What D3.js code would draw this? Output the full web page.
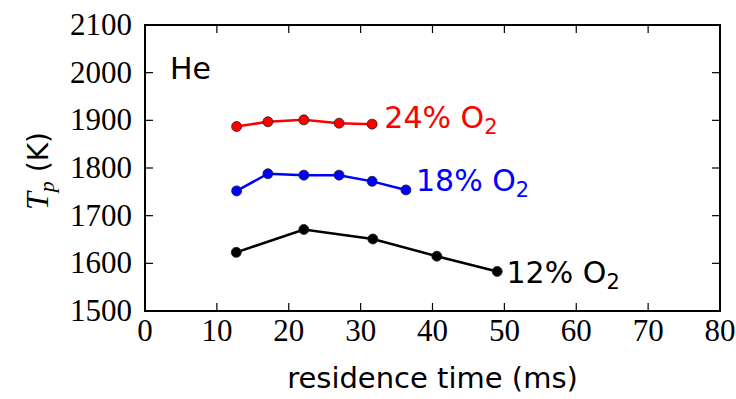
<!DOCTYPE html>
<html>
<head>
<meta charset="utf-8">
<script src="https://cdn.jsdelivr.net/npm/d3@7"></script>
<style>
  body { margin: 0; background: #fff; }
  svg { display: block; }
  .tick { font-family: "Liberation Serif", serif; font-size: 31px; }
</style>
</head>
<body>
<div id="chart"></div>
<script>
// residence time (ms) and particle temperature (K)
var time12 = [12.7, 22.1, 31.7, 40.6, 49.0];
var temp12 = [1623, 1671, 1651, 1615, 1583];
var time18 = [12.75, 17.1, 22.1, 27.0, 31.6, 36.3];
var temp18 = [1752, 1788, 1785, 1785, 1772, 1754];
var time24 = [12.75, 17.1, 22.1, 27.0, 31.6];
var temp24 = [1887, 1897, 1901, 1894, 1892];
var xTicks = [0, 10, 20, 30, 40, 50, 60, 70, 80];
var yTicks = [1500, 1600, 1700, 1800, 1900, 2000, 2100];
var seriesNames = ["12% O", "18% O", "24% O"];

var width = 736, height = 399;
var margin = {left: 145, right: 16, top: 25, bottom: 88};

var svg = d3.select("#chart").append("svg")
  .attr("width", width)
  .attr("height", height);

var x = d3.scaleLinear().domain([0, 80]).range([margin.left, width - margin.right]);
var y = d3.scaleLinear().domain([1500, 2100]).range([height - margin.bottom, margin.top]);

var sans = "DejaVu Sans, sans-serif";

// ticks (inward, all four sides)
var tl = 8;
var g = svg.append("g");
xTicks.forEach(function(t) {
  g.append("line").attr("x1", x(t)).attr("x2", x(t))
    .attr("y1", y(1500)).attr("y2", y(1500) - tl).attr("stroke", "#000").attr("stroke-width", 1.2);
  g.append("line").attr("x1", x(t)).attr("x2", x(t))
    .attr("y1", y(2100)).attr("y2", y(2100) + tl).attr("stroke", "#000").attr("stroke-width", 1.2);
  g.append("text").attr("class", "tick").attr("x", x(t)).attr("y", y(1500) + 30)
    .attr("text-anchor", "middle").text(t);
});
yTicks.forEach(function(t) {
  g.append("line").attr("x1", x(0)).attr("x2", x(0) + tl)
    .attr("y1", y(t)).attr("y2", y(t)).attr("stroke", "#000").attr("stroke-width", 1.2);
  g.append("line").attr("x1", x(80)).attr("x2", x(80) - tl)
    .attr("y1", y(t)).attr("y2", y(t)).attr("stroke", "#000").attr("stroke-width", 1.2);
  g.append("text").attr("class", "tick").attr("x", x(0) - 13).attr("y", y(t) + 10)
    .attr("text-anchor", "end").text(t);
});

// frame
svg.append("rect")
  .attr("x", x(0)).attr("y", y(2100))
  .attr("width", x(80) - x(0)).attr("height", y(1500) - y(2100))
  .attr("fill", "none").attr("stroke", "#000").attr("stroke-width", 2);

// series
var line = d3.line().x(function(d) { return x(d[0]); }).y(function(d) { return y(d[1]); });
function drawSeries(ts, vs, color) {
  var pts = d3.zip(ts, vs);
  svg.append("path").datum(pts).attr("d", line)
    .attr("fill", "none").attr("stroke", color).attr("stroke-width", 2.5);
  svg.append("g").selectAll("circle").data(pts).enter().append("circle")
    .attr("cx", function(d) { return x(d[0]); })
    .attr("cy", function(d) { return y(d[1]); })
    .attr("r", 5)
    .attr("fill", color)
    .attr("stroke", "#222").attr("stroke-width", 0.8);
}
drawSeries(time12, temp12, "#000");
drawSeries(time18, temp18, "#0000ff");
drawSeries(time24, temp24, "#ff0000");

// series labels
function label(px, py, name, color) {
  var t = svg.append("text").attr("x", px).attr("y", py)
    .attr("font-family", sans).attr("font-size", 30).attr("fill", color);
  t.append("tspan").text(name);
  t.append("tspan").attr("dy", 6).attr("font-size", 21).text("2");
}
label(x(50.3), y(1582) + 11, seriesNames[0], "#000");
label(x(37.7), y(1754) + 1, seriesNames[1], "#0000ff");
label(x(33.3), y(1891) + 3, seriesNames[2], "#ff0000");

svg.append("text").attr("x", 170).attr("y", 79)
  .attr("font-family", sans).attr("font-size", 30).text("He");

// axis labels
svg.append("text").attr("x", (x(0) + x(80)) / 2).attr("y", 388)
  .attr("text-anchor", "middle").attr("font-family", sans).attr("font-size", 29)
  .text("residence time (ms)");

var yl = svg.append("text")
  .attr("transform", "translate(48," + ((y(1500) + y(2100)) / 2 + 3) + ") rotate(-90)")
  .attr("text-anchor", "middle").attr("font-family", "Liberation Serif, serif").attr("font-size", 32);
yl.append("tspan").attr("font-style", "italic").text("T");
yl.append("tspan").attr("dy", 6).attr("font-size", 22).attr("font-style", "italic").text("p");
yl.append("tspan").attr("dy", -6).attr("font-family", sans).attr("font-size", 28).text(" (K)");
</script>
</body>
</html>
